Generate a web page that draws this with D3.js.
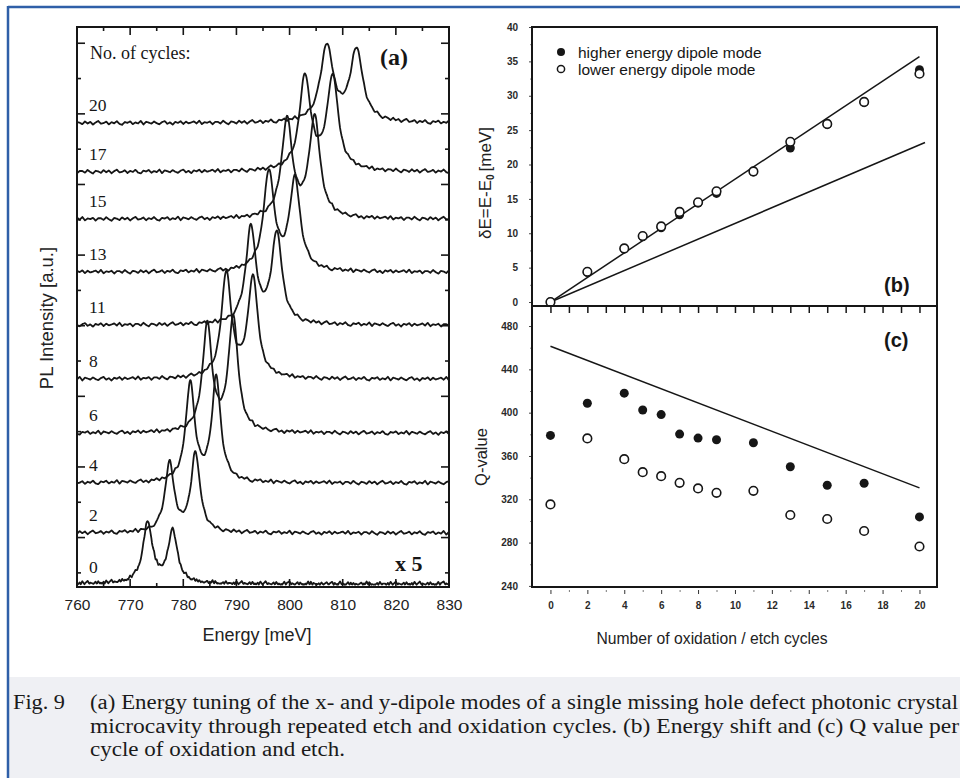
<!DOCTYPE html>
<html><head><meta charset="utf-8">
<script src="https://cdn.jsdelivr.net/npm/d3@7"></script>
<style>body{margin:0;background:#fff} svg{display:block}</style>
</head><body><svg id="c" width="960" height="778"></svg>
<script>
// ---------- Panel (a): PL spectra ----------
const cycles      = [0, 2, 4, 6, 8, 11, 13, 15, 17, 20];
const traceOffset = [-0.34, 1.13, 2.55, 3.96, 5.49, 7.02, 8.52, 10.02, 11.36, 12.74];
const peak1E      = [773.3, 777.4, 781.3, 784.5, 788.1, 792.7, 796.1, 799.5, 802.9, 807.0];
const peak1H      = [1.72, 1.97, 2.8, 3.03, 2.97, 2.72, 2.8, 2.77, 2.66, 2.17];
const peak2E      = [778.0, 782.3, 786.2, 789.4, 793.1, 797.6, 801.0, 804.7, 808.1, 812.6];
const peak2H      = [1.47, 2.24, 2.94, 3.28, 2.86, 2.57, 2.57, 2.86, 2.66, 2.04];
const peakWidth   = [1.05, 1.0, 1.0, 1.05, 1.1, 1.15, 1.2, 1.2, 1.25, 1.4];
const noiseAmp    = [0.13, 0.06, 0.06, 0.06, 0.06, 0.06, 0.06, 0.06, 0.06, 0.06];
const ripple = [0.3,-0.5,0.8,-0.2,-0.9,0.4,0.1,-0.6,0.7,-0.3,0.5,-0.8,0.2,0.9,-0.4,-0.1,0.6,-0.7,0.3,-0.2,
                0.8,-0.5,-0.9,0.4,0.0,0.7,-0.6,0.2,-0.3,0.9,-0.8,0.5,0.1,-0.4,0.6,-0.2,-0.7,0.3,0.8,-0.5,
                0.2,-0.9,0.4,-0.1,0.7,-0.6,0.5,-0.3,0.1,0.6,-0.4,0.9,-0.7,0.2,-0.1,0.5,-0.8,0.3];
const energyTicks = [760, 770, 780, 790, 800, 810, 820, 830];

// ---------- Panel (b): energy shift ----------
const cyclesBC   = [0, 2, 4, 5, 6, 7, 8, 9, 11, 13, 15, 17, 20];
const shiftHigh  = [0, 4.3, 7.7, 9.5, 10.8, 12.7, 14.4, 15.8, 18.9, 22.4, 25.8, 29.0, 33.8];
const shiftLow   = [0, 4.4, 7.8, 9.6, 11.0, 13.1, 14.5, 16.1, 19.0, 23.3, 25.9, 29.1, 33.2];
const fitLineB1  = [[0, 0], [20, 35.7]];
const fitLineB2  = [[0, 0], [20.3, 23.2]];
const shiftTicks = [0, 5, 10, 15, 20, 25, 30, 35, 40];

// ---------- Panel (c): Q value ----------
const qHigh  = [379, 408.7, 418, 402.5, 398.2, 380.2, 376.5, 375, 372.2, 350, 333, 334.8, 303.7];
const qLow   = [315.3, 376.2, 357, 345, 341.3, 335.2, 330, 326, 327.8, 305.5, 301.8, 290.7, 276.4];
const fitLineC = [[0, 461.3], [20, 330.5]];
const qTicks = [240, 280, 320, 360, 400, 440, 480];
const cycleTicks = [0, 2, 4, 6, 8, 10, 12, 14, 16, 18, 20];

const legendLabels = ["higher energy dipole mode", "lower energy dipole mode"];
const captionLines = [
  "(a) Energy tuning of the x- and y-dipole modes of a single missing hole defect photonic crystal",
  "microcavity through repeated etch and oxidation cycles. (b) Energy shift and (c) Q value per",
  "cycle of oxidation and etch."
];

const svg = d3.select("#c");
const INK = "#161616";
const SANS = "'Liberation Sans', Arial, Helvetica, sans-serif";
const SERIF = "'Liberation Serif', 'Times New Roman', Times, serif";

// page frame & caption background
svg.append("rect").attr("x", 9).attr("y", 677).attr("width", 951).attr("height", 101).attr("fill", "#eff0f4");
svg.append("line").attr("x1", 8).attr("x2", 960).attr("y1", 7).attr("y2", 7).attr("stroke", "#2f5fa8").attr("stroke-width", 2.5);
svg.append("line").attr("x1", 8).attr("x2", 8).attr("y1", 6).attr("y2", 778).attr("stroke", "#2f5fa8").attr("stroke-width", 2.5);

// ================= Panel (a) =================
const A = {l: 77, r: 449, t: 27, b: 587};
const xA = d3.scaleLinear().domain([760, 830]).range([A.l, A.r]);
const yA = d3.scaleLinear().domain([-0.4, 15.46]).range([A.b, A.t]);
const gA = svg.append("g");
gA.append("clipPath").attr("id", "clipA").append("rect")
  .attr("x", A.l).attr("y", A.t).attr("width", A.r - A.l).attr("height", A.b - A.t);

function noiseAt(E, shift) {
  const p = (E - 760) / 0.5 + shift;
  const k = Math.floor(p), f = p - k;
  const n = ripple.length;
  const a = ripple[((k % n) + n) % n];
  const b = ripple[(((k + 1) % n) + n) % n];
  return a + (b - a) * f;
}
const energies = d3.range(760, 830.001, 0.1);
const lineA = d3.line().x(d => xA(d[0])).y(d => yA(d[1]));
cycles.forEach((c, i) => {
  const w = peakWidth[i];
  const pts = energies.map(E => {
    const v = traceOffset[i]
      + peak1H[i] / (1 + ((E - peak1E[i]) / w) ** 2)
      + peak2H[i] / (1 + ((E - peak2E[i]) / w) ** 2);
    let n = noiseAt(E, i * 7);
    if (i === 0) n = Math.abs(n) * 0.8;
    return [E, v + noiseAmp[i] * n];
  });
  gA.append("path").attr("d", lineA(pts)).attr("fill", "none").attr("stroke", INK)
    .attr("stroke-width", 1.8).attr("stroke-linejoin", "round").attr("clip-path", "url(#clipA)");
  gA.append("text").attr("x", 89).attr("y", yA(traceOffset[i] + 0.5))
    .attr("dominant-baseline", "central").attr("font-family", SERIF)
    .attr("font-size", 17.5).attr("fill", INK).text(c);
});

gA.append("rect").attr("x", A.l).attr("y", A.t).attr("width", A.r - A.l).attr("height", A.b - A.t)
  .attr("fill", "none").attr("stroke", INK).attr("stroke-width", 2);
const minorE = d3.range(765, 830, 10);
gA.append("g").attr("transform", `translate(0,${A.b})`)
  .call(d3.axisBottom(xA).tickValues(energyTicks).tickSize(0).tickPadding(12).tickFormat(d3.format("d")))
  .call(g => g.select(".domain").remove())
  .call(g => g.selectAll("text").attr("font-family", SANS).attr("font-size", 15.5).attr("fill", "#222"));
const tickG = gA.append("g");
function inTicks(vals, len, side) {
  vals.forEach(v => {
    const x = xA(v);
    if (side === "b") tickG.append("line").attr("x1", x).attr("x2", x).attr("y1", A.b).attr("y2", A.b - len);
    else tickG.append("line").attr("x1", x).attr("x2", x).attr("y1", A.t).attr("y2", A.t + len);
  });
}
inTicks(energyTicks, 8, "b"); inTicks(minorE, 4, "b");
inTicks(energyTicks, 8, "t"); inTicks(minorE, 4, "t");
d3.range(0, 16).forEach(v => {
  const y = yA(v), len = v % 2 === 1 ? 8 : 4;
  tickG.append("line").attr("x1", A.l).attr("x2", A.l + len).attr("y1", y).attr("y2", y);
  tickG.append("line").attr("x1", A.r).attr("x2", A.r - len).attr("y1", y).attr("y2", y);
});
tickG.selectAll("line").attr("stroke", INK).attr("stroke-width", 1.6);

gA.append("text").attr("x", 90).attr("y", 53).attr("dominant-baseline", "central")
  .attr("font-family", SERIF).attr("font-size", 18).attr("fill", INK).text("No. of cycles:");
gA.append("text").attr("x", 380).attr("y", 57).attr("dominant-baseline", "central")
  .attr("font-family", SERIF).attr("font-weight", "bold").attr("font-size", 24).attr("fill", INK).text("(a)");
gA.append("text").attr("x", 395).attr("y", 563).attr("dominant-baseline", "central")
  .attr("font-family", SERIF).attr("font-weight", "bold").attr("font-size", 22).attr("fill", INK).text("x 5");
gA.append("text").attr("x", 257).attr("y", 635).attr("text-anchor", "middle").attr("dominant-baseline", "central")
  .attr("font-family", SANS).attr("font-size", 18).attr("fill", "#222").text("Energy [meV]");
gA.append("text").attr("transform", "translate(46,318) rotate(-90)").attr("text-anchor", "middle")
  .attr("dominant-baseline", "central").attr("font-family", SANS)
  .attr("font-size", 18.5).attr("fill", "#222").text("PL Intensity [a.u.]");

// ================= Panels (b) and (c) =================
const X0 = 532, X1 = 937;
const xBC = d3.scaleLinear().domain([-1, 20.95]).range([X0, X1]);
const B = {t: 27, b: 306}, C = {t: 306, b: 587};
const yB = d3.scaleLinear().domain([-0.58, 40]).range([B.b, B.t]);
const yC = d3.scaleLinear().domain([239, 498.5]).range([C.b, C.t]);
const gB = svg.append("g"), gC = svg.append("g");
const tickFont = g => g.selectAll("text").attr("font-family", SANS)
  .attr("font-weight", "bold").attr("font-size", 10).attr("fill", "#2a2a2a");

// (b)
const lineB = d3.line().x(d => xBC(d[0])).y(d => yB(d[1]));
[fitLineB1, fitLineB2].forEach(l => gB.append("path").attr("d", lineB(l)).attr("fill", "none")
  .attr("stroke", INK).attr("stroke-width", 1.5));
cyclesBC.forEach((c, i) => gB.append("circle").attr("cx", xBC(c)).attr("cy", yB(shiftHigh[i])).attr("r", 4.5).attr("fill", INK));
cyclesBC.forEach((c, i) => gB.append("circle").attr("cx", xBC(c)).attr("cy", yB(shiftLow[i])).attr("r", 4.3)
  .attr("fill", "#fff").attr("stroke", INK).attr("stroke-width", 1.6));
gB.append("g").attr("transform", `translate(${X0},0)`)
  .call(d3.axisLeft(yB).tickValues(shiftTicks).tickSize(3).tickPadding(11))
  .call(g => g.select(".domain").remove()).call(tickFont)
  .call(g => g.selectAll("line").attr("stroke", "#444"));
gB.append("g").attr("transform", `translate(${X0},0)`)
  .call(d3.axisLeft(yB).tickValues(shiftTicks.slice(0, -1).map(v => v + 2.5)).tickSize(2).tickFormat(""))
  .call(g => g.select(".domain").remove()).call(g => g.selectAll("line").attr("stroke", "#888"));
gB.append("rect").attr("x", X0).attr("y", B.t).attr("width", X1 - X0).attr("height", B.b - B.t)
  .attr("fill", "none").attr("stroke", INK).attr("stroke-width", 2);
gB.append("circle").attr("cx", 561).attr("cy", 52).attr("r", 4).attr("fill", INK);
gB.append("circle").attr("cx", 561).attr("cy", 69).attr("r", 3.6).attr("fill", "#fff").attr("stroke", INK).attr("stroke-width", 1.5);
legendLabels.forEach((t, i) => gB.append("text").attr("x", 578).attr("y", 52 + i * 17).attr("dominant-baseline", "central")
  .attr("font-family", SANS).attr("font-size", 15.5).attr("fill", INK).text(t));
gB.append("text").attr("x", 884).attr("y", 285).attr("dominant-baseline", "central")
  .attr("font-family", SANS).attr("font-weight", "bold").attr("font-size", 20).attr("fill", INK).text("(b)");
const yl = gB.append("text").attr("transform", "translate(485,183) rotate(-90)").attr("text-anchor", "middle")
  .attr("dominant-baseline", "central").attr("font-family", SANS)
  .attr("font-size", 17).attr("fill", "#222");
yl.append("tspan").text("δE=E-E");
yl.append("tspan").attr("baseline-shift", "sub").attr("font-size", 10).attr("font-weight", "bold").text("0");
yl.append("tspan").attr("dx", 3).text("[meV]");

// (c)
const lineC = d3.line().x(d => xBC(d[0])).y(d => yC(d[1]));
gC.append("path").attr("d", lineC(fitLineC)).attr("fill", "none").attr("stroke", INK).attr("stroke-width", 1.5);
cyclesBC.forEach((c, i) => gC.append("circle").attr("cx", xBC(c)).attr("cy", yC(qHigh[i])).attr("r", 4.5).attr("fill", INK));
cyclesBC.forEach((c, i) => gC.append("circle").attr("cx", xBC(c)).attr("cy", yC(qLow[i])).attr("r", 4.3)
  .attr("fill", "#fff").attr("stroke", INK).attr("stroke-width", 1.6));
gC.append("g").attr("transform", `translate(${X0},0)`)
  .call(d3.axisLeft(yC).tickValues(qTicks).tickSize(3).tickPadding(11))
  .call(g => g.select(".domain").remove()).call(tickFont)
  .call(g => g.selectAll("line").attr("stroke", "#444"));
gC.append("g").attr("transform", `translate(${X0},0)`)
  .call(d3.axisLeft(yC).tickValues(qTicks.slice(0, -1).map(v => v + 20)).tickSize(2).tickFormat(""))
  .call(g => g.select(".domain").remove()).call(g => g.selectAll("line").attr("stroke", "#888"));
gC.append("g").attr("transform", `translate(0,${C.b + 3})`)
  .call(d3.axisBottom(xBC).tickValues(cycleTicks).tickSize(4).tickPadding(8).tickFormat(d3.format("d")))
  .call(g => g.select(".domain").remove()).call(tickFont)
  .call(g => g.selectAll("line").attr("stroke", "#333"));
gC.append("g").attr("transform", `translate(0,${C.b + 3})`)
  .call(d3.axisBottom(xBC).tickValues(cycleTicks.slice(0, -1).map(v => v + 1)).tickSize(2).tickFormat(""))
  .call(g => g.select(".domain").remove()).call(g => g.selectAll("line").attr("stroke", "#777"));
gC.append("g").attr("transform", `translate(0,${C.t})`)
  .call(d3.axisBottom(xBC).tickValues(d3.range(0, 21)).tickSize(7).tickFormat(""))
  .call(g => g.select(".domain").remove()).call(g => g.selectAll("line").attr("stroke", INK).attr("stroke-width", 1.5));
gC.append("rect").attr("x", X0).attr("y", C.t).attr("width", X1 - X0).attr("height", C.b - C.t)
  .attr("fill", "none").attr("stroke", INK).attr("stroke-width", 2);
gC.append("text").attr("x", 884).attr("y", 340).attr("dominant-baseline", "central")
  .attr("font-family", SANS).attr("font-weight", "bold").attr("font-size", 20).attr("fill", INK).text("(c)");
gC.append("text").attr("transform", "translate(481,457) rotate(-90)").attr("text-anchor", "middle")
  .attr("dominant-baseline", "central").attr("font-family", SANS)
  .attr("font-size", 16.5).attr("fill", "#222").text("Q-value");
gC.append("text").attr("x", 712).attr("y", 638).attr("text-anchor", "middle").attr("dominant-baseline", "central")
  .attr("font-family", SANS).attr("font-size", 15.7).attr("fill", "#222")
  .text("Number of oxidation / etch cycles");

// caption
const cap = svg.append("g").attr("font-family", SERIF).attr("font-size", 20.5).attr("fill", "#1a1a1a");
cap.append("text").attr("x", 13).attr("y", 709).attr("textLength", 52).attr("lengthAdjust", "spacingAndGlyphs").text("Fig. 9");
const capLen = [868, 869, 255];
captionLines.forEach((t, i) => {
  cap.append("text").attr("x", 90).attr("y", 709 + i * 23.5).attr("textLength", capLen[i])
    .attr("lengthAdjust", "spacingAndGlyphs").text(t);
});
</script></body></html>
